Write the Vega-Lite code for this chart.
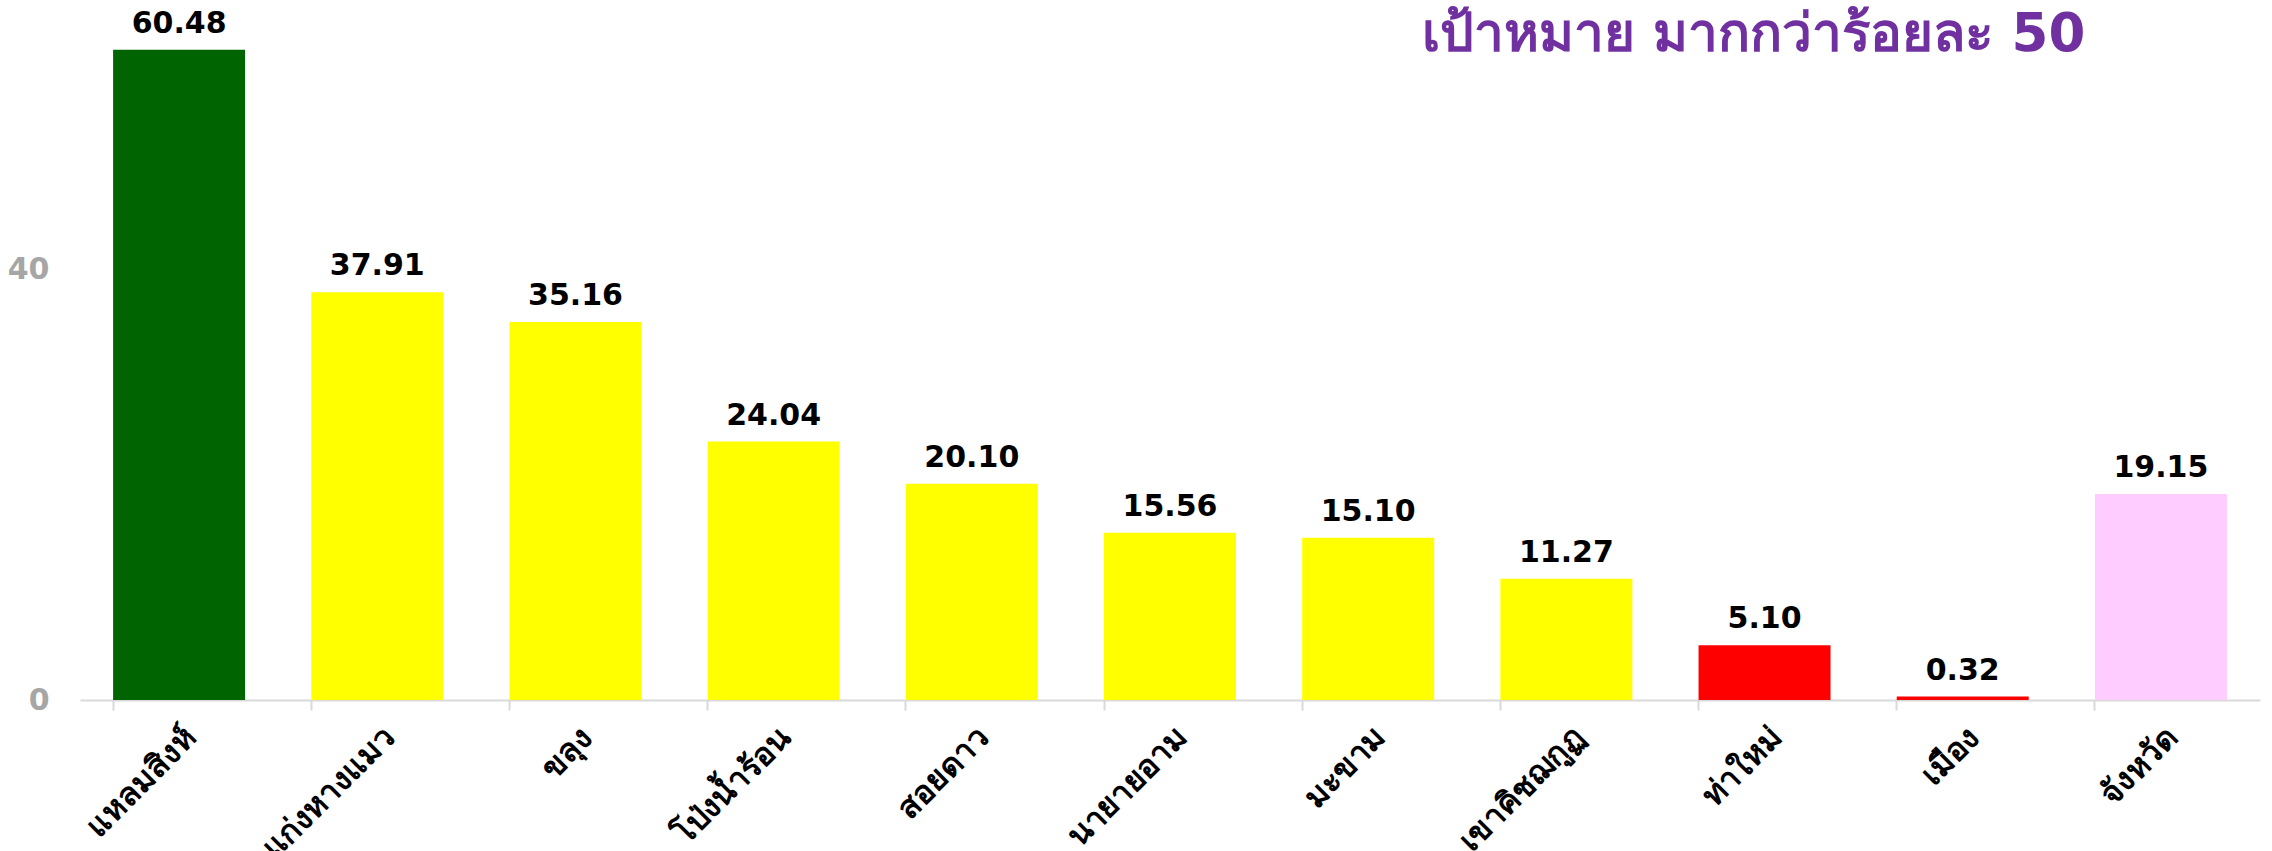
{
  "$schema": "https://vega.github.io/schema/vega-lite/v6.json",
  "width": 2180,
  "height": 700,
  "autosize": {"type": "none"},
  "padding": {"left": 80, "top": 0, "right": 12, "bottom": 151},
  "background": "white",
  "config": {"view": {"stroke": null}},
  "data": {
    "values": [
      {"area": "แหลมสิงห์", "value": 60.48, "color": "#006400"},
      {"area": "แก่งหางแมว", "value": 37.91, "color": "#ffff00"},
      {"area": "ขลุง", "value": 35.16, "color": "#ffff00"},
      {"area": "โป่งน้ำร้อน", "value": 24.04, "color": "#ffff00"},
      {"area": "สอยดาว", "value": 20.10, "color": "#ffff00"},
      {"area": "นายายอาม", "value": 15.56, "color": "#ffff00"},
      {"area": "มะขาม", "value": 15.10, "color": "#ffff00"},
      {"area": "เขาคิชฌกูฏ", "value": 11.27, "color": "#ffff00"},
      {"area": "ท่าใหม่", "value": 5.10, "color": "#ff0000"},
      {"area": "เมือง", "value": 0.32, "color": "#ff0000"},
      {"area": "จังหวัด", "value": 19.15, "color": "#ffccff"}
    ]
  },
  "encoding": {
    "x": {
      "field": "area",
      "type": "nominal",
      "sort": null,
      "scale": {"paddingInner": 0.334, "paddingOuter": 0.167},
      "axis": {
        "title": null,
        "labelAngle": -45,
        "labelAlign": "right",
        "labelBaseline": "middle",
        "labelPadding": 22,
        "labelFont": "Tahoma, DejaVu Sans",
        "labelFontSize": 32,
        "labelFontWeight": "bold",
        "labelColor": "#000000",
        "bandPosition": 0,
        "tickColor": "#d9d9d9",
        "tickSize": 10,
        "tickWidth": 2,
        "domainColor": "#d9d9d9",
        "domainWidth": 2,
        "labelOffset": 12
      }
    },
    "y": {
      "field": "value",
      "type": "quantitative",
      "scale": {"domain": [0, 65.1], "nice": false},
      "axis": {
        "title": null,
        "values": [0, 40],
        "grid": false,
        "ticks": false,
        "domain": false,
        "labelPadding": 31,
        "labelFont": "DejaVu Sans",
        "labelFontSize": 30,
        "labelFontWeight": "bold",
        "labelColor": "#a6a6a6"
      }
    }
  },
  "layer": [
    {
      "mark": {"type": "bar"},
      "encoding": {"color": {"field": "color", "type": "nominal", "scale": null}}
    },
    {
      "mark": {
        "type": "text",
        "baseline": "alphabetic",
        "dy": -17,
        "font": "DejaVu Sans",
        "fontSize": 30,
        "fontWeight": "bold",
        "color": "#000000"
      },
      "encoding": {"text": {"field": "value", "type": "quantitative", "format": ".2f"}}
    },
    {
      "transform": [{"filter": "datum.area === 'ท่าใหม่'"}],
      "mark": {
        "type": "text",
        "baseline": "alphabetic",
        "align": "center",
        "dx": -11,
        "font": "Tahoma, DejaVu Sans",
        "fontSize": 53,
        "fontWeight": "bold",
        "color": "#7030a0"
      },
      "encoding": {
        "y": {"datum": 60.4},
        "text": {"value": "เป้าหมาย มากกว่าร้อยละ 50"}
      }
    }
  ]
}
